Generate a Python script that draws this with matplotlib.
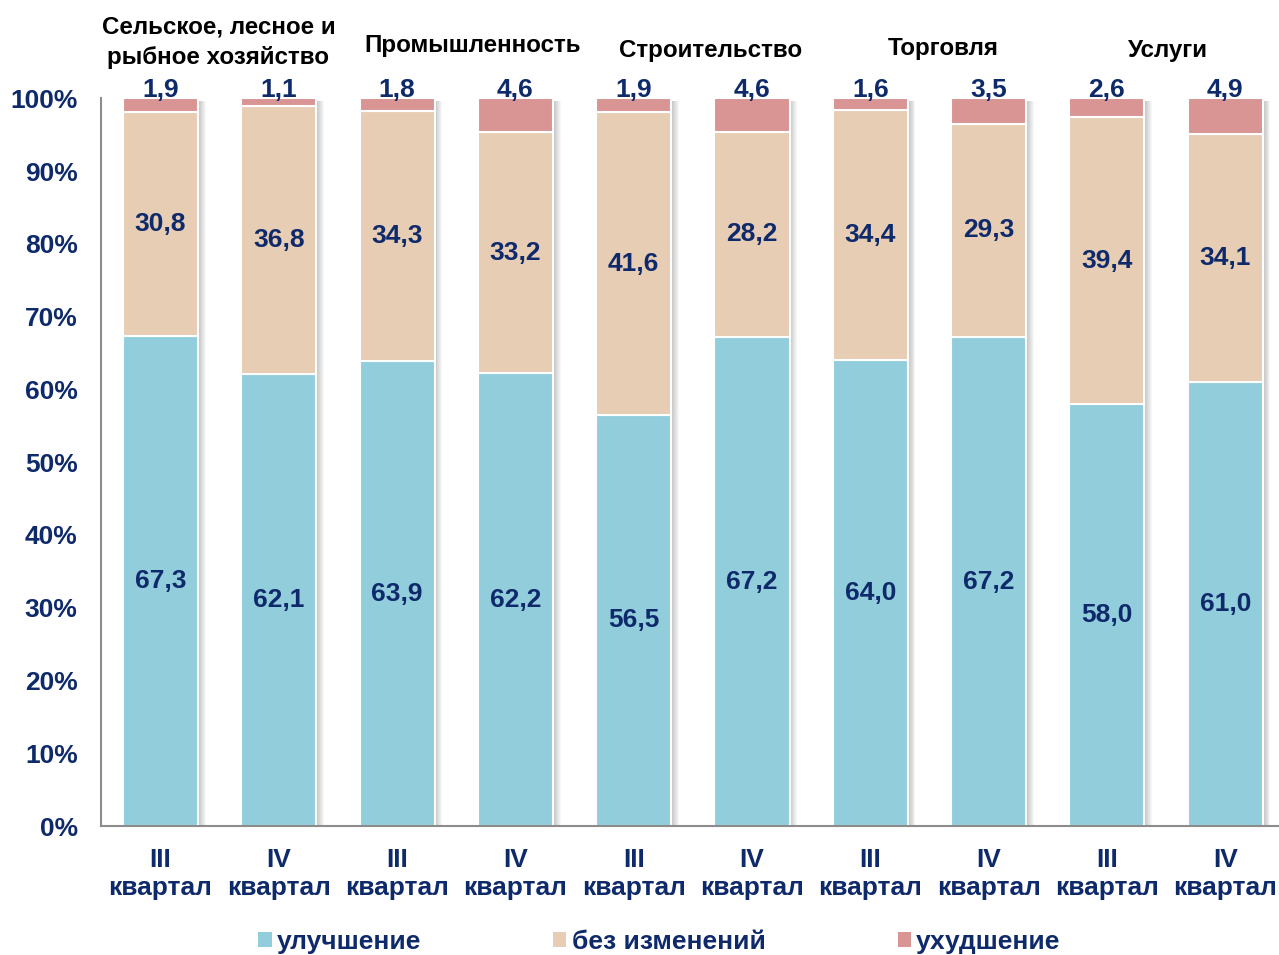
import matplotlib
matplotlib.use("Agg")
import matplotlib.pyplot as plt
from matplotlib.patches import Patch
import numpy as np

plt.rcParams['font.family'] = ['Liberation Sans', 'DejaVu Sans']

x_labels = ["III\nквартал", "IV\nквартал"] * 5
improve = [67.3, 62.1, 63.9, 62.2, 56.5, 67.2, 64.0, 67.2, 58.0, 61.0]
nochange = [30.8, 36.8, 34.3, 33.2, 41.6, 28.2, 34.4, 29.3, 39.4, 34.1]
worse = [1.9, 1.1, 1.8, 4.6, 1.9, 4.6, 1.6, 3.5, 2.6, 4.9]
groups = ["Сельское, лесное и\nрыбное хозяйство", "Промышленность",
          "Строительство", "Торговля", "Услуги"]
series_names = ["улучшение", "без изменений", "ухудшение"]
colors = ["#92CDDC", "#E6CDB4", "#D99594"]
navy = "#0E2A6B"

fig = plt.figure(figsize=(12.79, 9.55), dpi=100)
ax = fig.add_axes([0.0792, 0.135, 0.925, 0.762])

x = np.arange(len(improve))
w = 0.635
imp = np.array(improve)
noc = np.array(nochange)
wor = np.array(worse)
total = imp + noc + wor

# shadows
nsh = 8
dx = 0.008
for k in range(nsh):
    a = 0.35 * (1 - k / nsh)
    ax.bar(x + w / 2 + dx * (k + 0.5), total - 0.4, width=dx, bottom=0,
           color="#505050", alpha=a, linewidth=0, zorder=1)

ax.bar(x, imp, width=w, color=colors[0], edgecolor="white", linewidth=1.5, zorder=2)
ax.bar(x, noc, width=w, bottom=imp, color=colors[1], edgecolor="white", linewidth=1.5, zorder=2)
ax.bar(x, wor, width=w, bottom=imp + noc, color=colors[2], edgecolor="white", linewidth=1.5, zorder=2)

fs = 19
for i in range(len(x)):
    ax.text(x[i], imp[i] / 2, f"{improve[i]:.1f}".replace(".", ","), ha="center", va="center",
            fontsize=fs, fontweight="bold", color=navy, zorder=3)
    ax.text(x[i], imp[i] + noc[i] / 2, f"{nochange[i]:.1f}".replace(".", ","), ha="center", va="center",
            fontsize=fs, fontweight="bold", color=navy, zorder=3)
    ax.text(x[i], 100.2, f"{worse[i]:.1f}".replace(".", ","), ha="center", va="baseline",
            fontsize=fs, fontweight="bold", color=navy, zorder=3)

ax.set_xlim(-0.5, len(x) - 0.5)
ax.set_ylim(0, 100)
ax.set_yticks(np.arange(0, 101, 10))
ax.set_yticklabels([f"{v}%" for v in range(0, 101, 10)], fontsize=fs, fontweight="bold", color=navy)
ax.set_xticks(x)
ax.set_xticklabels(x_labels, fontsize=fs, fontweight="bold", color=navy, linespacing=1.2)
ax.tick_params(axis="both", length=0)
ax.tick_params(axis="y", pad=17)
ax.tick_params(axis="x", pad=16)
for s in ["top", "right"]:
    ax.spines[s].set_visible(False)
for s in ["left", "bottom"]:
    ax.spines[s].set_color("#8C8C8C")
    ax.spines[s].set_linewidth(1.5)

# group titles
title_pos = [(0.49, 107.7), (2.64, 107.3), (4.65, 106.6), (6.62, 106.9), (8.52, 106.6)]
for g, (gx, gy) in zip(groups, title_pos):
    ax.text(gx, gy, g, ha="center", va="center", fontsize=17.4, fontweight="bold",
            color="black", linespacing=1.38, clip_on=False)

handles = [Patch(facecolor=c, edgecolor="none") for c in colors]
leg = fig.legend(handles, series_names, loc="center", bbox_to_anchor=(0.5156, 0.0136),
                 ncol=3, frameon=False, handlelength=0.5, handleheight=0.5,
                 handletextpad=0.2, columnspacing=5.0,
                 prop={"size": fs, "weight": "bold"})
for t in leg.get_texts():
    t.set_color(navy)

fig.savefig("out.png", dpi=100)
